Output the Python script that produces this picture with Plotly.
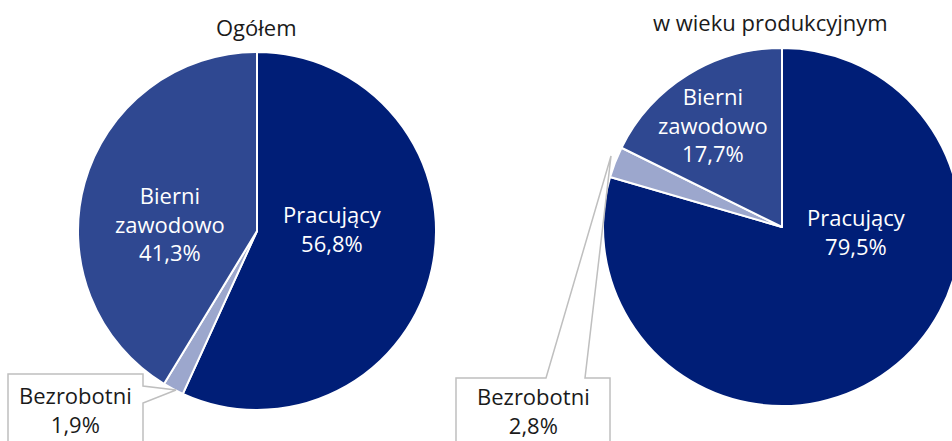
import plotly.graph_objects as go

# ---- data ----
categories = ["Pracujący", "Bezrobotni", "Bierni zawodowo"]
ogolem_values = [56.8, 1.9, 41.3]
produkcyjny_values = [79.5, 2.8, 17.7]
titles = ["Ogółem", "w wieku produkcyjnym"]
colors = ["#001E77", "#9CA7CD", "#2F4891"]

# figure is a bit wider than the window so the right pie is cut at the edge
W, H = 962, 441
FONT = "Open Sans"
FS = 22


def px(x):
    return x / W


def py(y):
    return 1 - y / H


def fmt(v):
    return f"{v:.1f}%".replace(".", ",")


fig = go.Figure()

fig.add_trace(go.Pie(
    labels=categories, values=ogolem_values, sort=False, direction="clockwise",
    rotation=0, textinfo="none", hoverinfo="label+percent",
    marker=dict(colors=colors, line=dict(color="white", width=2)),
    domain=dict(x=[px(78), px(436)], y=[py(410), py(52)]),
    showlegend=False,
))
fig.add_trace(go.Pie(
    labels=categories, values=produkcyjny_values, sort=False, direction="clockwise",
    rotation=0, textinfo="none", hoverinfo="label+percent",
    marker=dict(colors=colors, line=dict(color="white", width=2)),
    domain=dict(x=[px(603), px(961)], y=[py(406), py(48)]),
    showlegend=False,
))

ann = []
dark = dict(size=FS, color="#1a1a1a")
white = dict(size=FS, color="white")
# titles
ann.append(dict(x=px(256), y=py(27), text=titles[0], font=dark))
ann.append(dict(x=px(770), y=py(22), text=titles[1], font=dark))


def label(cat, v):
    return cat.replace(" ", "<br>") + "<br>" + fmt(v)


# left pie labels
ann.append(dict(x=px(332), y=py(229), text=label(categories[0], ogolem_values[0]), font=white))
ann.append(dict(x=px(170), y=py(223), text=label(categories[2], ogolem_values[2]), font=white))
ann.append(dict(x=px(75), y=py(409), text=label(categories[1], ogolem_values[1]), font=dark))
# right pie labels
ann.append(dict(x=px(856), y=py(232), text=label(categories[0], produkcyjny_values[0]), font=white))
ann.append(dict(x=px(713), y=py(125), text=label(categories[2], produkcyjny_values[2]), font=white))
ann.append(dict(x=px(533), y=py(410), text=label(categories[1], produkcyjny_values[1]), font=dark))

for a in ann:
    a.update(xref="paper", yref="paper", showarrow=False, xanchor="center", yanchor="middle")


def path(points):
    return "M " + " L ".join(f"{px(x):.5f},{py(y):.5f}" for x, y in points) + " Z"


shapes = [
    dict(type="path", xref="paper", yref="paper", layer="above",
         path=path([(8, 374), (143, 374), (143, 386), (176, 390), (143, 403),
                    (143, 470), (8, 470)]),
         line=dict(color="#BFBFBF", width=1.5), fillcolor="white"),
    dict(type="path", xref="paper", yref="paper", layer="above",
         path=path([(456, 378), (546, 378), (611, 156), (585, 378), (610, 378),
                    (610, 470), (456, 470)]),
         line=dict(color="#BFBFBF", width=1.5), fillcolor="white"),
]

fig.update_layout(
    width=W, height=H, margin=dict(l=0, r=0, t=0, b=0, pad=0),
    paper_bgcolor="white", plot_bgcolor="white",
    font=dict(family=FONT, size=FS, color="#1a1a1a"),
    annotations=ann, shapes=shapes,
)

fig.write_html(
    "out.html",
    config={"displayModeBar": False},
    post_script="document.documentElement.style.overflow='hidden';"
                "document.body.style.margin='0';document.body.style.overflow='hidden';",
)
